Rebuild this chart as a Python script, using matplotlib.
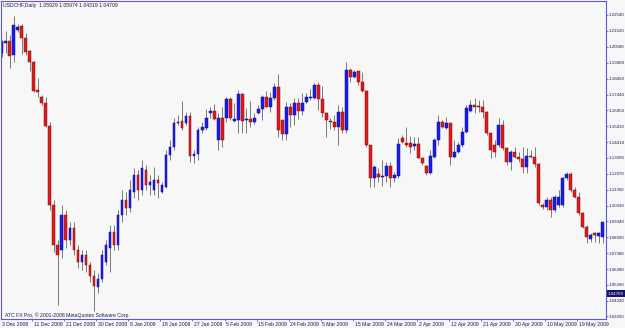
import numpy as np
import matplotlib.pyplot as plt
from matplotlib.transforms import blended_transform_factory

plt.rcParams['font.family'] = ['Liberation Sans', 'DejaVu Sans']

# daily USDCHF bars (left to right)
opens = [1.2011, 1.2077, 1.2090, 1.1998, 1.2158, 1.2184, 1.2105, 1.2024, 1.1955, 1.1774,
         1.1727, 1.1693, 1.1544, 1.1038, 1.0782, 1.0750, 1.0974, 1.0814, 1.0891, 1.0750,
         1.0673, 1.0718, 1.0654, 1.0584, 1.0513, 1.0564, 1.0673, 1.0763, 1.0865, 1.0782,
         1.0974, 1.1070, 1.1019, 1.1121, 1.1230, 1.1134, 1.1262, 1.1166, 1.1134, 1.1198,
         1.1123, 1.1155, 1.1358, 1.1411, 1.1561, 1.1576, 1.1565, 1.1610, 1.1352, 1.1364,
         1.1518, 1.1533, 1.1625, 1.1640, 1.1454, 1.1593, 1.1593, 1.1714, 1.1578, 1.1582,
         1.1746, 1.1580, 1.1586, 1.1567, 1.1625, 1.1650, 1.1727, 1.1663, 1.1721, 1.1791,
         1.1582, 1.1490, 1.1663, 1.1614, 1.1689, 1.1640, 1.1699, 1.1721, 1.1725, 1.1806,
         1.1714, 1.1625, 1.1576, 1.1571, 1.1535, 1.1635, 1.1518, 1.1902, 1.1859, 1.1896,
         1.1823, 1.1770, 1.1422, 1.1209, 1.1236, 1.1219, 1.1224, 1.1288, 1.1213, 1.1224,
         1.1465, 1.1437, 1.1437, 1.1417, 1.1426, 1.1341, 1.1288, 1.1241, 1.1347, 1.1454,
         1.1571, 1.1529, 1.1561, 1.1343, 1.1379, 1.1422, 1.1507, 1.1640, 1.1678, 1.1673,
         1.1667, 1.1635, 1.1497, 1.1422, 1.1422, 1.1550, 1.1401, 1.1315, 1.1379, 1.1343,
         1.1330, 1.1283, 1.1352, 1.1347, 1.1300, 1.1038, 1.1027, 1.1070, 1.1006, 1.1038,
         1.1038, 1.1209, 1.1235, 1.1134, 1.1091, 1.0985, 1.0899, 1.0820, 1.0859, 1.0840, 1.0835]
highs = [1.2094, 1.2154, 1.2126, 1.2248, 1.2196, 1.2194, 1.2139, 1.2030, 1.1960, 1.1851,
         1.1742, 1.1731, 1.1569, 1.1070, 1.0814, 1.1038, 1.1006, 1.0929, 1.0929, 1.0782,
         1.0750, 1.0750, 1.0673, 1.0622, 1.0603, 1.0750, 1.0814, 1.0910, 1.0910, 1.1006,
         1.1134, 1.1121, 1.1198, 1.1275, 1.1262, 1.1326, 1.1294, 1.1230, 1.1283, 1.1230,
         1.1187, 1.1390, 1.1454, 1.1593, 1.1614, 1.1706, 1.1635, 1.1635, 1.1390, 1.1539,
         1.1571, 1.1650, 1.1667, 1.1683, 1.1625, 1.1667, 1.1731, 1.1731, 1.1689, 1.1774,
         1.1757, 1.1657, 1.1704, 1.1625, 1.1678, 1.1742, 1.1770, 1.1763, 1.1821, 1.1876,
         1.1582, 1.1699, 1.1693, 1.1721, 1.1721, 1.1753, 1.1753, 1.1778, 1.1817, 1.1827,
         1.1800, 1.1635, 1.1593, 1.1614, 1.1678, 1.1667, 1.1955, 1.1913, 1.1902, 1.1896,
         1.1891, 1.1774, 1.1422, 1.1294, 1.1273, 1.1326, 1.1315, 1.1315, 1.1251, 1.1465,
         1.1486, 1.1539, 1.1480, 1.1475, 1.1471, 1.1347, 1.1294, 1.1390, 1.1465, 1.1614,
         1.1582, 1.1603, 1.1565, 1.1454, 1.1443, 1.1539, 1.1678, 1.1710, 1.1721, 1.1710,
         1.1710, 1.1640, 1.1497, 1.1454, 1.1593, 1.1582, 1.1411, 1.1390, 1.1411, 1.1379,
         1.1411, 1.1401, 1.1390, 1.1411, 1.1305, 1.1053, 1.1091, 1.1091, 1.1102, 1.1134,
         1.1219, 1.1251, 1.1251, 1.1155, 1.1123, 1.0995, 1.0910, 1.0861, 1.0865, 1.0867, 1.0931]
lows = [1.1985, 1.2011, 1.1915, 1.1953, 1.2145, 1.2004, 1.1998, 1.1898, 1.1763, 1.1731,
        1.1678, 1.1539, 1.1006, 1.0737, 1.0398, 1.0699, 1.0763, 1.0782, 1.0718, 1.0635,
        1.0622, 1.0609, 1.0545, 1.0360, 1.0475, 1.0545, 1.0654, 1.0609, 1.0750, 1.0750,
        1.0929, 1.0974, 1.0993, 1.1083, 1.1070, 1.1102, 1.1134, 1.1102, 1.1102, 1.1081,
        1.1113, 1.1145, 1.1326, 1.1390, 1.1550, 1.1518, 1.1550, 1.1315, 1.1305, 1.1326,
        1.1501, 1.1518, 1.1593, 1.1582, 1.1390, 1.1411, 1.1571, 1.1582, 1.1571, 1.1497,
        1.1497, 1.1501, 1.1539, 1.1556, 1.1618, 1.1582, 1.1663, 1.1635, 1.1710, 1.1471,
        1.1454, 1.1454, 1.1539, 1.1550, 1.1586, 1.1614, 1.1689, 1.1710, 1.1714, 1.1646,
        1.1603, 1.1475, 1.1522, 1.1518, 1.1422, 1.1497, 1.1497, 1.1827, 1.1851, 1.1806,
        1.1763, 1.1411, 1.1155, 1.1155, 1.1187, 1.1160, 1.1187, 1.1155, 1.1187, 1.1209,
        1.1433, 1.1411, 1.1369, 1.1390, 1.1337, 1.1294, 1.1230, 1.1236, 1.1337, 1.1422,
        1.1529, 1.1522, 1.1294, 1.1337, 1.1369, 1.1411, 1.1497, 1.1635, 1.1625, 1.1635,
        1.1593, 1.1486, 1.1337, 1.1347, 1.1411, 1.1390, 1.1294, 1.1262, 1.1337, 1.1315,
        1.1241, 1.1241, 1.1337, 1.1283, 1.1038, 1.1010, 1.1006, 1.0963, 1.0995, 1.1027,
        1.1027, 1.1198, 1.1123, 1.1081, 1.0974, 1.0889, 1.0793, 1.0803, 1.0803, 1.0797, 1.0793]
closes = [1.2081, 1.2090, 1.1994, 1.2190, 1.2179, 1.2105, 1.2019, 1.1955, 1.1770, 1.1761,
          1.1689, 1.1544, 1.1038, 1.0782, 1.0718, 1.0974, 1.0814, 1.0891, 1.0750, 1.0673,
          1.0718, 1.0654, 1.0584, 1.0520, 1.0564, 1.0718, 1.0782, 1.0865, 1.0782, 1.0974,
          1.1070, 1.1019, 1.1134, 1.1230, 1.1134, 1.1275, 1.1166, 1.1185, 1.1198, 1.1177,
          1.1166, 1.1358, 1.1411, 1.1565, 1.1571, 1.1529, 1.1610, 1.1352, 1.1364, 1.1518,
          1.1539, 1.1593, 1.1640, 1.1588, 1.1593, 1.1454, 1.1714, 1.1593, 1.1588, 1.1746,
          1.1578, 1.1586, 1.1571, 1.1593, 1.1650, 1.1727, 1.1667, 1.1721, 1.1791, 1.1518,
          1.1490, 1.1663, 1.1614, 1.1689, 1.1640, 1.1689, 1.1731, 1.1727, 1.1806, 1.1714,
          1.1625, 1.1582, 1.1569, 1.1535, 1.1635, 1.1518, 1.1902, 1.1859, 1.1891, 1.1823,
          1.1770, 1.1422, 1.1209, 1.1283, 1.1219, 1.1224, 1.1288, 1.1213, 1.1230, 1.1426,
          1.1443, 1.1422, 1.1411, 1.1426, 1.1341, 1.1305, 1.1241, 1.1352, 1.1454, 1.1571,
          1.1535, 1.1565, 1.1343, 1.1379, 1.1422, 1.1507, 1.1657, 1.1678, 1.1667, 1.1667,
          1.1635, 1.1497, 1.1390, 1.1379, 1.1550, 1.1401, 1.1315, 1.1379, 1.1347, 1.1330,
          1.1283, 1.1352, 1.1347, 1.1300, 1.1049, 1.1023, 1.1070, 1.1006, 1.1091, 1.1091,
          1.1213, 1.1235, 1.1134, 1.1091, 1.0985, 1.0899, 1.0835, 1.0846, 1.0846, 1.0861, 1.0931]

price_ticks = [1.22540, 1.21520, 1.20500, 1.19480, 1.18460, 1.17440, 1.16450, 1.15430,
               1.14410, 1.13390, 1.12370, 1.11350, 1.10330, 1.09340, 1.08320, 1.07300,
               1.06280, 1.05260, 1.04240, 1.03250]
date_labels = ["3 Dec 2008", "11 Dec 2008", "21 Dec 2008", "30 Dec 2008", "8 Jan 2009",
               "18 Jan 2009", "27 Jan 2009", "5 Feb 2009", "15 Feb 2009", "24 Feb 2009",
               "5 Mar 2009", "15 Mar 2009", "24 Mar 2009", "2 Apr 2009", "12 Apr 2009",
               "21 Apr 2009", "30 Apr 2009", "10 May 2009", "19 May 2009"]
last_price = 1.04709
header = "USDCHF,Daily  1.05929 1.05974 1.04319 1.04709"
footer = "ATC FX Pro, \u00a9 2001-2008 MetaQuotes Software Corp."

bg = '#f7f7f7'
axis_col = '#5a5ad2'
text_col = '#1c1c4c'
fs = 3.7
fs_price = 3.2

o = np.array(opens)
h = np.array(highs)
l = np.array(lows)
c = np.array(closes)
x = np.arange(len(o))
up = c >= o

fig = plt.figure(figsize=(6.25, 3.28), dpi=100, facecolor=bg)
ax = fig.add_axes([1 / 625, 9 / 328, 604.7 / 625, 318 / 328])
ax.set_facecolor(bg)

ax.vlines(x, l, h, color='#7a7a7a', linewidth=0.7, zorder=1)
bottom = np.minimum(o, c)
height = np.maximum(np.abs(c - o), 0.0005)
ax.bar(x[up], height[up], bottom=bottom[up], width=0.7, color='#1a1af2',
       edgecolor='#101080', linewidth=0.35, zorder=2)
ax.bar(x[~up], height[~up], bottom=bottom[~up], width=0.7, color='#e01a1a',
       edgecolor='#7a1010', linewidth=0.35, zorder=2)

ax.set_xlim(-0.2, 150.75)
ax.set_ylim(1.03084, 1.23436)

for s in ax.spines.values():
    s.set_color(axis_col)
    s.set_linewidth(0.8)

# price axis on the right
ax.yaxis.tick_right()
ax.set_yticks(price_ticks)
ax.set_yticklabels(['%.5f' % p for p in price_ticks])
ax.tick_params(axis='y', direction='out', length=1.5, width=0.6, color=axis_col,
               labelsize=fs_price, labelcolor=text_col, pad=0.6)

# date axis: marks every 8 bars, labels start just right of the mark
tick_pos = [8 * k - 0.4 for k in range(len(date_labels))]
ax.set_xticks(tick_pos[1:])
ax.set_xticklabels([])
ax.tick_params(axis='x', direction='out', length=1.6, width=0.6, color=axis_col)
tx = blended_transform_factory(ax.transData, ax.transAxes)
for pos, lab in zip(tick_pos, date_labels):
    ax.text(pos + 0.45, -0.017, lab, transform=tx, fontsize=fs, color=text_col,
            ha='left', va='center', clip_on=False)

# last price box
ty = blended_transform_factory(ax.transAxes, ax.transData)
ax.text(1.0035, last_price, '%.5f' % last_price, transform=ty, fontsize=fs_price,
        color='white', ha='left', va='center', clip_on=False,
        bbox=dict(boxstyle='square,pad=0.25', fc='#14146a', ec='none'))

ax.text(0.004, 0.987, header, transform=ax.transAxes, fontsize=fs, color=text_col,
        ha='left', va='center')
ax.text(0.006, 0.013, footer, transform=ax.transAxes, fontsize=fs, color=text_col,
        ha='left', va='center')

fig.savefig('out.png', dpi=100, facecolor=bg)
